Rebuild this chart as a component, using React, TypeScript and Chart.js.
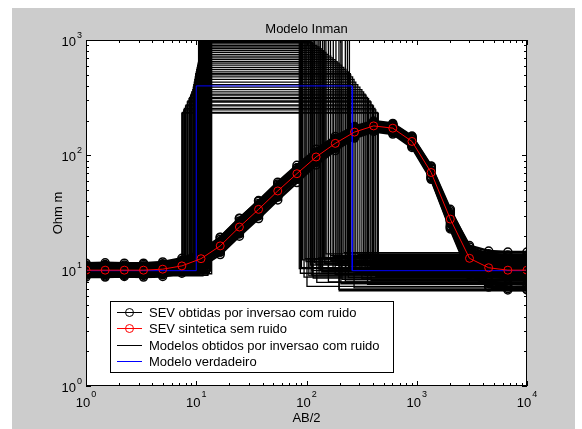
import React, { useEffect, useRef } from "react";
import { Chart, registerables } from "chart.js";

Chart.register(...registerables);

// ---------- data ----------
const TITLE = "Modelo Inman";
const X_LABEL = "AB/2";
const Y_LABEL = "Ohm m";
const LEGEND_LABELS = [
  "SEV obtidas por inversao com ruido",
  "SEV sintetica sem ruido",
  "Modelos obtidos por inversao com ruido",
  "Modelo verdadeiro",
];
const X_MIN = 1;
const X_MAX = 10000;
const Y_MIN = 1;
const Y_MAX = 1000;
const X_DECADES = [0, 1, 2, 3, 4];
const Y_DECADES = [0, 1, 2, 3];

// AB/2 sampling positions of the soundings
const abHalf = [
  1, 1.492, 2.227, 3.325, 4.963, 7.406, 11.05, 16.5, 24.63, 36.75, 54.86, 81.86,
  122.2, 182.4, 272.2, 406.3, 606.4, 905.0, 1350.7, 2015.9, 3008.9, 4490.5, 6702.3, 10000,
];

// synthetic sounding without noise (red)
const sevSynthetic = [
  10.1, 10.1, 10.1, 10.1, 10.3, 11.0, 12.7, 16.4, 23.9, 34.0, 49.1, 69.3,
  96.8, 127, 159, 180, 172, 132, 71, 28, 12.8, 10.6, 10.1, 10.1,
];

// soundings of the inverted models (black)
const sevInv1 = [11.2, 11.3, 11.2, 11.3, 11.5, 12.3, 14.3, 18.6, 27.0, 38.2, 55.0, 77.5, 107, 140, 174, 195, 186, 145, 80, 33, 16.5, 14.8, 14.5, 14.5];
const sevInv2 = [9.1, 9.0, 9.1, 9.1, 9.2, 9.8, 11.3, 14.5, 21.2, 30.3, 43.8, 62.0, 87.0, 115, 145, 165, 157, 120, 63, 23.5, 9.5, 7.2, 6.8, 6.8];
const sevInv3 = [10.6, 10.7, 10.6, 10.6, 10.9, 11.6, 13.5, 17.4, 25.3, 36.1, 52.0, 73.2, 102, 134, 167, 188, 180, 139, 76, 30.5, 14.0, 12.2, 11.8, 11.8];
const sevInv4 = [9.6, 9.5, 9.6, 9.6, 9.8, 10.4, 12.0, 15.5, 22.6, 32.1, 46.4, 65.5, 91.5, 120, 151, 171, 163, 125, 66, 25.5, 11.0, 9.0, 8.6, 8.5];
const sevInv5 = [10.9, 10.9, 10.8, 10.9, 11.2, 11.9, 13.9, 17.9, 26.0, 37.0, 53.5, 75.0, 104, 136, 170, 191, 183, 142, 78, 32, 15.3, 13.6, 13.2, 13.3];
const sevInv6 = [9.4, 9.4, 9.3, 9.4, 9.5, 10.2, 11.7, 15.1, 22.0, 31.4, 45.3, 64.0, 89.5, 118, 148, 168, 160, 123, 65, 24.5, 10.2, 8.1, 7.7, 7.6];
const sevInv7 = [10.4, 10.4, 10.5, 10.4, 10.6, 11.4, 13.1, 17.0, 24.6, 35.1, 50.5, 71.3, 99.5, 131, 163, 184, 176, 136, 73, 29, 13.3, 11.4, 10.9, 11.0];
const sevInv8 = [9.8, 9.8, 9.8, 9.9, 10.0, 10.7, 12.3, 15.9, 23.2, 33.0, 47.7, 67.4, 94.0, 124, 155, 176, 168, 129, 69, 27, 12.2, 9.9, 9.4, 9.3];
const sevInv9 = [11.0, 11.1, 11.0, 11.0, 11.3, 12.0, 13.9, 17.8, 25.8, 36.6, 52.7, 74.0, 103, 135, 169, 190, 182, 141, 77, 31, 14.7, 13.0, 12.6, 12.6];
const sevInv10 = [9.3, 9.2, 9.3, 9.2, 9.4, 10.0, 11.5, 14.9, 21.7, 30.9, 44.6, 63.0, 88.2, 116, 147, 166, 158, 121, 64, 24, 9.9, 7.7, 7.3, 7.2];
const sevInv11 = [10.2, 10.3, 10.2, 10.2, 10.5, 11.2, 12.9, 16.7, 24.3, 34.6, 50.0, 70.4, 98.4, 129, 161, 182, 174, 134, 72, 28.5, 13.0, 11.0, 10.5, 10.4];
const sevInv12 = [10.0, 10.0, 10.1, 10.0, 10.2, 10.9, 12.6, 16.2, 23.6, 33.6, 48.5, 68.3, 95.5, 125, 157, 178, 170, 130, 70, 27.5, 12.5, 10.3, 9.8, 9.8];
const sevInv13 = [11.6, 11.7, 11.6, 11.6, 11.9, 12.8, 14.9, 19.4, 28.3, 40.5, 58.5, 82.0, 113, 146, 178, 198, 189, 147, 81, 34, 16.0, 14.0, 13.7, 13.6];
const sevInv14 = [8.8, 8.8, 8.9, 8.8, 8.9, 9.5, 10.8, 13.8, 19.9, 28.3, 41.0, 58.0, 82.5, 110, 141, 161, 153, 117, 62, 23, 9.2, 7.4, 7.0, 6.9];
const sevInv15 = [10.3, 10.3, 10.3, 10.4, 10.8, 12.0, 14.6, 19.5, 28.5, 40.0, 56.5, 78.0, 106, 137, 168, 186, 175, 133, 70, 27, 12.5, 10.5, 10.2, 10.1];
const sevInv16 = [9.9, 9.9, 9.9, 9.9, 10.0, 10.4, 11.6, 14.5, 20.8, 29.8, 43.5, 62.0, 87.5, 117, 150, 173, 168, 131, 72, 29, 13.5, 11.2, 10.8, 10.7];
const sevInverted = [
  sevInv1, sevInv2, sevInv3, sevInv4, sevInv5, sevInv6, sevInv7, sevInv8,
  sevInv9, sevInv10, sevInv11, sevInv12, sevInv13, sevInv14, sevInv15, sevInv16,
];

// inverted 3-layer models (black): resistivities (Ohm m) and layer bottoms (m)
const modelRho1 = [
  10.2, 9.6, 10.8, 10.4, 9.3, 11.1, 10.0, 9.8, 10.6, 9.5, 10.9, 10.3, 9.7, 10.5, 11.4, 9.2, 10.1, 10.7, 9.9, 10.4,
  9.4, 11.0, 10.2, 9.6, 10.8, 10.0, 9.8, 10.5, 11.2, 9.5, 10.3, 10.1, 9.9, 10.6, 10.0, 9.7, 10.4, 10.9, 9.4, 10.2,
  10.1, 9.3, 10.7, 11.3, 9.7, 10.4, 9.0, 10.9, 10.2, 9.5, 11.6, 10.0, 9.8, 10.6, 9.2, 10.3, 11.1, 9.6, 10.5, 9.9,
  10.8, 9.4, 10.2, 11.0, 9.7, 10.4, 9.1, 10.6, 10.0, 10.7,
];
const modelDepth1 = [
  7.4, 7.5, 7.7, 7.8, 8.0, 8.1, 8.3, 8.4, 8.6, 8.7, 8.9, 9.0, 9.1, 9.3, 9.4, 9.5, 9.6, 9.7, 9.8, 9.9,
  9.9, 10.0, 10.1, 10.2, 10.3, 10.4, 10.5, 10.6, 10.7, 10.8, 10.9, 11.0, 11.1, 11.2, 11.3, 11.4, 11.5, 11.6, 11.7, 11.8,
  10.5, 10.7, 10.9, 11.0, 11.2, 11.4, 11.5, 11.7, 11.9, 12.0, 12.2, 12.3, 12.5, 12.6, 12.8, 12.9, 13.0, 13.2, 13.3, 13.5,
  13.6, 13.8, 11.1, 11.6, 12.1, 12.4, 12.7, 13.1, 13.4, 10.8,
];
const modelRho2 = [
  232, 236, 248, 255, 268, 274, 290, 296, 310, 318, 333, 340, 355, 372, 390, 410, 432, 455, 478, 498,
  510, 530, 555, 580, 605, 630, 650, 675, 700, 725, 750, 780, 810, 840, 870, 900, 925, 950, 975, 995,
  1020, 1080, 1150, 1230, 1300, 1380, 1450, 1530, 1620, 1700, 1800, 1900, 2000, 2150, 2300, 2450, 2600, 2800, 3000, 1250,
  1600, 2200, 1100, 1400, 1750, 1950, 2400, 2700, 1350, 1050,
];
const modelDepth2 = [
  448, 440, 425, 418, 405, 398, 385, 378, 366, 358, 347, 340, 330, 318, 305, 292, 280, 270, 262, 252,
  250, 240, 228, 218, 208, 198, 190, 182, 174, 166, 158, 150, 143, 136, 130, 124, 118, 113, 109, 105,
  134, 92, 210, 118, 88, 165, 101, 245, 127, 95, 185, 110, 150, 86, 225, 99, 140, 122, 197, 90,
  175, 105, 235, 115, 158, 97, 130, 205, 145, 112,
];
const modelRho3 = [
  9.8, 10.5, 8.9, 11.6, 9.4, 12.5, 8.2, 10.9, 13.2, 7.6, 11.0, 9.1, 12.0, 8.5, 10.2, 13.8, 9.6, 7.1, 11.3, 10.0,
  12.8, 8.7, 9.9, 14.3, 10.7, 6.7, 11.8, 9.3, 10.4, 12.2, 8.0, 11.5, 13.0, 9.7, 10.3, 7.9, 12.6, 9.0, 11.2, 10.6,
  10.1, 12.4, 8.4, 11.7, 9.5, 13.5, 7.3, 10.8, 12.9, 8.8, 11.1, 9.2, 14.0, 10.4, 8.1, 12.0, 9.8, 11.4, 6.9, 10.6,
  13.2, 9.0, 11.9, 8.6, 10.3, 12.7, 9.4, 7.7, 11.6, 10.0,
];

// true model (blue)
const trueRho = [10, 400, 10];
const trueDepth = [10, 260];

// ---------- style ----------
const FONT = '"Liberation Sans", Arial, Helvetica, sans-serif';
const FIG_BG = "#cccccc";

function layerPoints(rho: number[], depth: number[]) {
  const pts: { x: number; y: number }[] = [];
  let x0 = X_MIN;
  for (let i = 0; i < rho.length; i++) {
    const x1 = i < depth.length ? depth[i] : X_MAX;
    pts.push({ x: x0, y: rho[i] });
    pts.push({ x: x1, y: rho[i] });
    x0 = x1;
  }
  return pts;
}

function drawPow(ctx: CanvasRenderingContext2D, x: number, y: number, exp: string, align: "center" | "right", raise: number) {
  ctx.font = `13px ${FONT}`;
  const w1 = ctx.measureText("10").width;
  ctx.font = `9px ${FONT}`;
  const w2 = ctx.measureText(exp).width;
  const total = w1 + w2 + 1;
  const x0 = align === "center" ? x - total / 2 : x - total;
  ctx.textAlign = "left";
  ctx.textBaseline = "alphabetic";
  ctx.font = `13px ${FONT}`;
  ctx.fillText("10", x0, y);
  ctx.font = `9px ${FONT}`;
  ctx.fillText(exp, x0 + w1 + 1, y - raise);
}

const figurePlugin = {
  id: "figureDecor",
  beforeDraw(chart: any) {
    const { ctx, chartArea } = chart;
    ctx.save();
    ctx.fillStyle = "#ffffff";
    ctx.fillRect(0, 0, chart.width, chart.height);
    ctx.fillStyle = FIG_BG;
    ctx.fillRect(12, 8, 563, chart.height - 8);
    ctx.fillStyle = "#ffffff";
    ctx.fillRect(chartArea.left, chartArea.top, chartArea.right - chartArea.left, chartArea.bottom - chartArea.top);
    ctx.restore();
  },
  afterDraw(chart: any) {
    const { ctx, chartArea, scales } = chart;
    const xs = scales.x;
    const ys = scales.y;
    const L = chartArea.left, R = chartArea.right, T = chartArea.top, B = chartArea.bottom;
    ctx.save();
    ctx.strokeStyle = "#000000";
    ctx.fillStyle = "#000000";
    ctx.lineWidth = 1;
    ctx.strokeRect(L + 0.5, T + 0.5, R - L - 1, B - T - 1);
    ctx.beginPath();
    X_DECADES.forEach((d) => {
      for (let m = 1; m <= 9; m++) {
        const v = m * Math.pow(10, d);
        if (v > X_MAX) break;
        const px = Math.round(xs.getPixelForValue(v)) + 0.5;
        const len = m === 1 ? 5 : 3;
        ctx.moveTo(px, B);
        ctx.lineTo(px, B - len);
        ctx.moveTo(px, T);
        ctx.lineTo(px, T + len);
      }
    });
    Y_DECADES.forEach((d) => {
      for (let m = 1; m <= 9; m++) {
        const v = m * Math.pow(10, d);
        if (v > Y_MAX) break;
        const py = Math.round(ys.getPixelForValue(v)) + 0.5;
        const len = m === 1 ? 5 : 3;
        ctx.moveTo(L, py);
        ctx.lineTo(L + len, py);
        ctx.moveTo(R, py);
        ctx.lineTo(R - len, py);
      }
    });
    ctx.stroke();
    X_DECADES.forEach((d) => {
      const px = xs.getPixelForValue(Math.pow(10, d));
      drawPow(ctx, px, B + 21, String(d), "center", 10);
    });
    Y_DECADES.forEach((d) => {
      const py = ys.getPixelForValue(Math.pow(10, d));
      drawPow(ctx, L - 4, py + 5.5, String(d), "right", 8);
    });
    ctx.font = `13px ${FONT}`;
    ctx.textAlign = "center";
    ctx.textBaseline = "alphabetic";
    const cx = (L + R) / 2;
    ctx.fillText(TITLE, cx, 32.5);
    ctx.fillText(X_LABEL, cx, 422);
    ctx.save();
    ctx.translate(62, (T + B) / 2);
    ctx.rotate(-Math.PI / 2);
    ctx.fillText(Y_LABEL, 0, 0);
    ctx.restore();
    // legend box
    const lx = 110.5, ly = 301.5, lw = 283, lh = 71;
    ctx.fillStyle = "#ffffff";
    ctx.fillRect(lx, ly, lw, lh);
    ctx.strokeStyle = "#000000";
    ctx.strokeRect(lx, ly, lw, lh);
    const rows = [
      { color: "#000000", marker: true },
      { color: "#ff0000", marker: true },
      { color: "#000000", marker: false },
      { color: "#0000ff", marker: false },
    ];
    rows.forEach((r, i) => {
      const yy = Math.round(312 + i * 16.3) + 0.5;
      ctx.strokeStyle = r.color;
      ctx.lineWidth = 1;
      ctx.beginPath();
      ctx.moveTo(117, yy);
      ctx.lineTo(142, yy);
      ctx.stroke();
      if (r.marker) {
        ctx.beginPath();
        ctx.arc(129.5, yy, 4, 0, Math.PI * 2);
        ctx.stroke();
      }
      ctx.fillStyle = "#000000";
      ctx.font = `13px ${FONT}`;
      ctx.textAlign = "left";
      ctx.textBaseline = "middle";
      ctx.fillText(LEGEND_LABELS[i], 149, yy + 0.5);
    });
    ctx.restore();
  },
};

export default function App() {
  const canvasRef = useRef<HTMLCanvasElement | null>(null);

  useEffect(() => {
    if (!canvasRef.current) return;
    const datasets: any[] = [];

    modelRho1.forEach((_, i) => {
      datasets.push({
        label: LEGEND_LABELS[2],
        data: layerPoints([modelRho1[i], modelRho2[i], modelRho3[i]], [modelDepth1[i], modelDepth2[i]]),
        borderColor: "#000000",
        borderWidth: 1.3,
        pointRadius: 0,
        order: 4,
      });
    });

    sevInverted.forEach((s) => {
      datasets.push({
        label: LEGEND_LABELS[0],
        data: abHalf.map((x, j) => ({ x, y: s[j] })),
        borderColor: "#000000",
        borderWidth: 2.5,
        pointRadius: 4,
        pointBorderWidth: 1.5,
        pointBorderColor: "#000000",
        pointBackgroundColor: "rgba(0,0,0,0)",
        order: 3,
      });
    });

    datasets.push({
      label: LEGEND_LABELS[3],
      data: layerPoints(trueRho, trueDepth),
      borderColor: "#0000ff",
      borderWidth: 1,
      pointRadius: 0,
      order: 1,
    });

    datasets.push({
      label: LEGEND_LABELS[1],
      data: abHalf.map((x, j) => ({ x, y: sevSynthetic[j] })),
      borderColor: "#ff0000",
      borderWidth: 1,
      pointRadius: 4,
      pointBorderWidth: 1,
      pointBorderColor: "#ff0000",
      pointBackgroundColor: "rgba(0,0,0,0)",
      order: 0,
    });

    const chart = new Chart(canvasRef.current, {
      type: "line",
      data: { datasets },
      options: {
        responsive: false,
        animation: false,
        devicePixelRatio: 1,
        layout: { padding: { left: 86, top: 40, right: 55, bottom: 43 } },
        scales: {
          x: { type: "logarithmic", min: X_MIN, max: X_MAX, display: false },
          y: { type: "logarithmic", min: Y_MIN, max: Y_MAX, display: false },
        },
        elements: { line: { tension: 0 } },
        plugins: {
          legend: { display: false },
          title: { display: false },
          tooltip: { enabled: false },
        },
      },
      plugins: [figurePlugin],
    } as any);
    return () => chart.destroy();
  }, []);

  return (
    <div style={{ position: "absolute", left: 0, top: 0, width: 582, height: 429 }}>
      <canvas ref={canvasRef} width={582} height={429} style={{ display: "block" }} />
    </div>
  );
}
